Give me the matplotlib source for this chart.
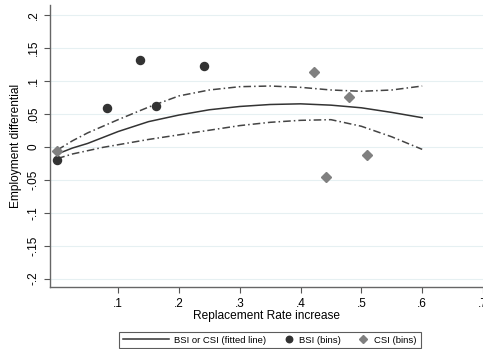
import matplotlib
matplotlib.use('Agg')
import matplotlib.pyplot as plt
from matplotlib.legend_handler import HandlerLine2D

plt.rcParams['font.family'] = ['Liberation Sans', 'DejaVu Sans']

# binned scatter points
bsi_x = [0.0, 0.082, 0.136, 0.163, 0.242]
bsi_y = [-0.020, 0.058, 0.131, 0.062, 0.122]
csi_x = [0.0, 0.422, 0.479, 0.442, 0.509]
csi_y = [-0.006, 0.113, 0.076, -0.046, -0.013]

# fitted line and confidence band
fit_x = [0.0, 0.025, 0.05, 0.075, 0.1, 0.15, 0.2, 0.25, 0.3, 0.35, 0.4, 0.45, 0.5, 0.55, 0.6]
fit_y = [-0.011, -0.002, 0.005, 0.014, 0.023, 0.038, 0.048, 0.056, 0.061, 0.064, 0.065, 0.063, 0.059, 0.052, 0.044]
ci_hi = [-0.005, 0.009, 0.021, 0.031, 0.041, 0.060, 0.077, 0.086, 0.091, 0.092, 0.090, 0.086, 0.084, 0.086, 0.092]
ci_lo = [-0.018, -0.011, -0.006, -0.001, 0.003, 0.011, 0.018, 0.025, 0.032, 0.037, 0.040, 0.041, 0.031, 0.015, -0.004]

xticks = [0.1, 0.2, 0.3, 0.4, 0.5, 0.6, 0.7]
xlabels = ['.1', '.2', '.3', '.4', '.5', '.6', '.7']
yticks = [-0.2, -0.15, -0.1, -0.05, 0, 0.05, 0.1, 0.15, 0.2]
ylabels = ['-.2', '-.15', '-.1', '-.05', '0', '.05', '.1', '.15', '.2']


class ShortHandler(HandlerLine2D):
    # narrower handle box for the marker entries
    def legend_artist(self, legend, orig_handle, fontsize, handlebox):
        handlebox.width = fontsize * 1.1
        return super().legend_artist(legend, orig_handle, fontsize, handlebox)


fig = plt.figure(figsize=(4.83, 3.49), dpi=100)
ax = fig.add_axes([0.1035, 0.177, 0.8965, 0.809])

for yt in yticks:
    ax.axhline(yt, color='#e6f0f2', lw=0.8, zorder=0)

ax.plot(fit_x, ci_hi, color='#444444', lw=1.1, dashes=(5, 2, 1, 2))
ax.plot(fit_x, ci_lo, color='#444444', lw=1.1, dashes=(5, 2, 1, 2))
l1, = ax.plot(fit_x, fit_y, color='#333333', lw=1.1, label='BSI or CSI (fitted line)')
l2, = ax.plot(bsi_x, bsi_y, 'o', color='#333333', ms=5.8, label='BSI (bins)')
l3, = ax.plot(csi_x, csi_y, 'D', color='#808080', ms=5, label='CSI (bins)')

ax.set_xlim(-0.012, 0.698)
ax.set_ylim(-0.213, 0.215)
ax.set_xticks(xticks)
ax.set_xticklabels(xlabels)
ax.set_yticks(yticks)
ax.set_yticklabels(ylabels, rotation=90, va='center')
ax.tick_params(axis='both', colors='#555555', labelcolor='black', labelsize=8.5, length=4, width=0.8)
for s in ['top', 'right']:
    ax.spines[s].set_visible(False)
for s in ['left', 'bottom']:
    ax.spines[s].set_color('#666666')
    ax.spines[s].set_linewidth(1.0)

ax.set_xlabel('Replacement Rate increase', fontsize=8.6, labelpad=0)
ax.set_ylabel('Employment differential', fontsize=8.6, labelpad=4)

leg = fig.legend(handles=[l1, l2, l3], loc='lower center', bbox_to_anchor=(0.559, -0.012),
                 ncol=3, fontsize=6.8, frameon=True, fancybox=False, handlelength=4.8,
                 columnspacing=1.8, handletextpad=0.6, borderpad=0.4, markerscale=0.8,
                 handler_map={l2: ShortHandler(), l3: ShortHandler()})
leg.get_frame().set_edgecolor('#333333')
leg.get_frame().set_linewidth(0.8)

fig.savefig('out.png', dpi=100)
